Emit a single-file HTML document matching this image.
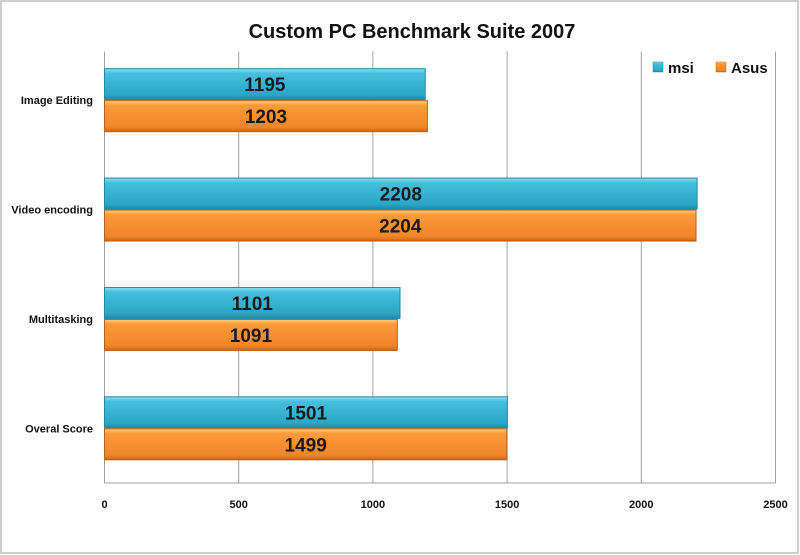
<!DOCTYPE html>
<html><head><meta charset="utf-8"><style>
body{margin:0;background:#fff;}
svg{display:block;font-family:"Liberation Sans",sans-serif;}
</style></head><body>
<svg width="800" height="555">
<defs>
<linearGradient id="gb" x1="0" y1="0" x2="0" y2="1"><stop offset="0" stop-color="#8fe0f0"/><stop offset="0.15" stop-color="#45bfdc"/><stop offset="0.85" stop-color="#2aa6c6"/><stop offset="1" stop-color="#1d8aa8"/></linearGradient>
<linearGradient id="go" x1="0" y1="0" x2="0" y2="1"><stop offset="0" stop-color="#ffd080"/><stop offset="0.15" stop-color="#fb9a38"/><stop offset="0.85" stop-color="#f0862a"/><stop offset="1" stop-color="#c8661a"/></linearGradient>
</defs>
<rect x="1" y="1" width="797" height="552" fill="#fff" stroke="#bdbdbd" stroke-width="1.5"/>
<text x="412" y="38" text-anchor="middle" font-size="20" font-weight="bold" fill="#111">Custom PC Benchmark Suite 2007</text>
<g id="grid"></g>
<g id="bars"></g>
<g id="labels"></g>
<g>
<rect x="653" y="62" width="10" height="10" fill="url(#gb)" stroke="#1d8aa8" stroke-width="0.5"/>
<text x="668" y="73" font-size="15" font-weight="bold" fill="#111">msi</text>
<rect x="716" y="62" width="10" height="10" fill="url(#go)" stroke="#c8661a" stroke-width="0.5"/>
<text x="731" y="73" font-size="15" font-weight="bold" fill="#111">Asus</text>
</g>
</svg>
<script>
const categories=["Image Editing","Video encoding","Multitasking","Overal Score"];
const msiValues=[1195,2208,1101,1501];
const asusValues=[1203,2204,1091,1499];
const tickValues=[0,500,1000,1500,2000,2500];
const NS="http://www.w3.org/2000/svg";
const x0=104.5,x1=775.5,yTop=45.5,yBot=483,maxV=2500;
const xs=v=>x0+(x1-x0)*v/maxV;
const band=(yBot-yTop)/categories.length;
const yc=i=>yTop+band*(i+0.5);
function mk(t,a,p){const e=document.createElementNS(NS,t);for(const k in a)e.setAttribute(k,a[k]);p.appendChild(e);return e;}
const grid=document.getElementById('grid'),bars=document.getElementById('bars'),labels=document.getElementById('labels');
tickValues.forEach(v=>{
 const l=mk('line',{x1:xs(v),x2:xs(v),y1:yTop+6,y2:yBot,stroke:'#a0a0a0','stroke-width':1},grid);
 
 
 const t=mk('text',{x:xs(v),y:508,'text-anchor':'middle','font-size':11,'font-weight':'bold',fill:'#111'},labels);
 t.textContent=v;
 
 
});
mk('line',{x1:x0,x2:x1,y1:yBot,y2:yBot,stroke:'#a0a0a0'},grid);
const bh=31;
categories.forEach((c,i)=>{
 const cy=yc(i);
 const t=mk('text',{x:93,y:cy+4,'text-anchor':'end','font-size':11,'font-weight':'bold',fill:'#111'},labels);
 t.textContent=c;
 
 
 [[msiValues[i],'url(#gb)','#1d8aa8',cy-bh-0.5,'bar-msi'],[asusValues[i],'url(#go)','#b8601a',cy+0.5,'bar-asus']].forEach(([v,f,s,y,n])=>{
  const r=mk('rect',{x:x0,y:y,width:xs(v)-x0,height:bh,fill:f,stroke:s,'stroke-width':1},bars);
  
  
  const lt=mk('text',{x:(x0+xs(v))/2,y:y+bh/2+7,'text-anchor':'middle','font-size':19,'font-weight':'bold',fill:'#1a1a1a'},labels);
  lt.textContent=v;
  
  
 });
});
</script>
</body></html>
